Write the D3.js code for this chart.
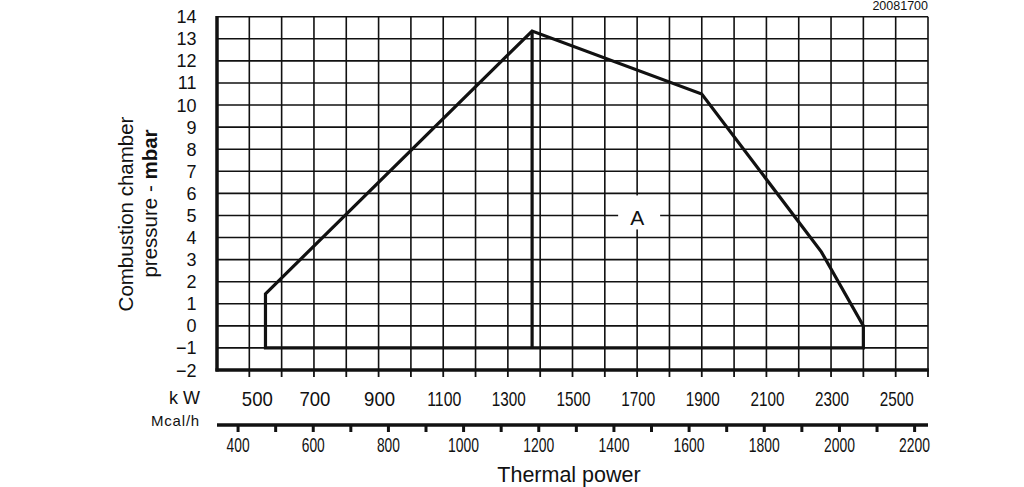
<!DOCTYPE html>
<html>
<head>
<meta charset="utf-8">
<script src="https://cdn.jsdelivr.net/npm/d3@7"></script>
<style>
  html, body { margin: 0; padding: 0; background: #fff; }
  svg { display: block; }
  text { font-family: "Liberation Sans", Arial, sans-serif; fill: #111; }
</style>
</head>
<body>
<svg id="chart" width="1024" height="487"></svg>
<script>
// ---- data ----
const kwDomain = [400, 2600];
const mbarDomain = [-2, 14];
const kwGrid = d3.range(400, 2601, 100);
const mbarGrid = d3.range(-2, 15, 1);
const kwTickLabels = [500, 700, 900, 1100, 1300, 1500, 1700, 1900, 2100, 2300, 2500];
const mcalTicks = d3.range(400, 2201, 100);
const mcalTickLabels = [400, 600, 800, 1000, 1200, 1400, 1600, 1800, 2000, 2200];
const mbarTickLabels = [14, 13, 12, 11, 10, 9, 8, 7, 6, 5, 4, 3, 2, 1, 0, -1, -2];
const envelopeKW   = [550, 550, 1375, 1900, 2270, 2400, 2400];
const envelopeMbar = [-1, 1.45, 13.35, 10.5, 3.35, 0, -1];
const dividerKW = 1375;
const dividerMbar = [13.35, -1];
const areaLabel = { text: "A", kw: 1700, mbar: 5 };
const kwPerMcal = 1.163;

// ---- layout ----
const svg = d3.select("#chart");
const L = 217, R = 928, T = 16.7, B = 370;
const x = d3.scaleLinear().domain(kwDomain).range([L, R]);
const y = d3.scaleLinear().domain(mbarDomain).range([B, T]);
const xm = d3.scaleLinear().domain(kwDomain.map(v => v / kwPerMcal)).range([L, R]);
const ink = "#111";

// grid
const g = svg.append("g");
g.selectAll("line.v").data(kwGrid).join("line")
  .attr("x1", d => x(d)).attr("x2", d => x(d)).attr("y1", T).attr("y2", B)
  .attr("stroke", ink).attr("stroke-width", 1.6);
g.selectAll("line.h").data(mbarGrid).join("line")
  .attr("x1", L).attr("x2", R).attr("y1", d => y(d)).attr("y2", d => y(d))
  .attr("stroke", ink).attr("stroke-width", 1.6);

// thick left and bottom frame
svg.append("line").attr("x1", L).attr("x2", L).attr("y1", T - 0.8).attr("y2", B + 1.5)
  .attr("stroke", ink).attr("stroke-width", 3.5);
svg.append("line").attr("x1", L - 1.5).attr("x2", R + 0.8).attr("y1", B).attr("y2", B)
  .attr("stroke", ink).attr("stroke-width", 3.5);

// kW ticks below bottom
svg.append("g").selectAll("line").data(kwGrid.filter(d => d > 400)).join("line")
  .attr("x1", d => x(d)).attr("x2", d => x(d)).attr("y1", B).attr("y2", B + 7)
  .attr("stroke", ink).attr("stroke-width", 1.8);

// y tick labels
svg.append("g").selectAll("text").data(mbarTickLabels).join("text")
  .attr("x", 196.5).attr("y", d => y(d) + 6.5)
  .attr("text-anchor", "end").attr("font-size", 18)
  .text(d => d < 0 ? "\u2212" + Math.abs(d) : String(d));

// kW labels
svg.append("g").selectAll("text").data(kwTickLabels).join("text")
  .attr("x", d => x(d) + (d === 500 ? 8 : 1))
  .attr("y", 406)
  .attr("text-anchor", "middle").attr("font-size", 21)
  .attr("textLength", d => String(d).length === 3 ? 31 : 34)
  .attr("lengthAdjust", "spacingAndGlyphs")
  .text(d => d);

svg.append("text").attr("x", 200).attr("y", 404).attr("text-anchor", "end")
  .attr("font-size", 18).text("k W");
svg.append("text").attr("x", 200).attr("y", 426).attr("text-anchor", "end")
  .attr("font-size", 15).attr("letter-spacing", 0.8).text("Mcal/h");

// Mcal/h axis
const mY = 425;
svg.append("line").attr("x1", L).attr("x2", R).attr("y1", mY).attr("y2", mY)
  .attr("stroke", ink).attr("stroke-width", 3.5);
svg.append("g").selectAll("line").data(mcalTicks).join("line")
  .attr("x1", d => xm(d)).attr("x2", d => xm(d)).attr("y1", mY).attr("y2", mY + 7)
  .attr("stroke", ink).attr("stroke-width", 3);
svg.append("g").selectAll("text").data(mcalTickLabels).join("text")
  .attr("x", d => xm(d)).attr("y", 451.5)
  .attr("text-anchor", "middle").attr("font-size", 21)
  .attr("textLength", d => String(d).length === 3 ? 23 : 31)
  .attr("lengthAdjust", "spacingAndGlyphs")
  .text(d => d);

// envelope
const pts = envelopeKW.map((k, i) => [x(k), y(envelopeMbar[i])]);
svg.append("path")
  .attr("d", d3.line()(pts) + "Z")
  .attr("fill", "none").attr("stroke", ink).attr("stroke-width", 3.2)
  .attr("stroke-linejoin", "miter");
svg.append("line")
  .attr("x1", x(dividerKW)).attr("x2", x(dividerKW))
  .attr("y1", y(dividerMbar[0])).attr("y2", y(dividerMbar[1]))
  .attr("stroke", ink).attr("stroke-width", 3.2);

// area label A
const ax = x(areaLabel.kw), ay = y(areaLabel.mbar);
svg.append("rect").attr("x", ax - 19).attr("y", ay - 20).attr("width", 42).attr("height", 34)
  .attr("fill", "#fff");
svg.append("text").attr("x", ax).attr("y", ay + 10).attr("text-anchor", "middle")
  .attr("font-size", 21).attr("font-weight", 300).text(areaLabel.text);

// axis titles
svg.append("text").attr("transform", "translate(133,214) rotate(-90)")
  .attr("text-anchor", "middle").attr("font-size", 20.5).text("Combustion chamber");
const t2 = svg.append("text").attr("transform", "translate(156.5,203.5) rotate(-90)")
  .attr("text-anchor", "middle").attr("font-size", 20.5);
t2.append("tspan").text("pressure - ");
t2.append("tspan").attr("font-weight", "bold").text("mbar");

svg.append("text").attr("x", 569).attr("y", 481.5).attr("text-anchor", "middle")
  .attr("font-size", 21.5).text("Thermal power");

svg.append("text").attr("x", 928).attr("y", 10).attr("text-anchor", "end")
  .attr("font-size", 12.5).text("20081700");
</script>
</body>
</html>
